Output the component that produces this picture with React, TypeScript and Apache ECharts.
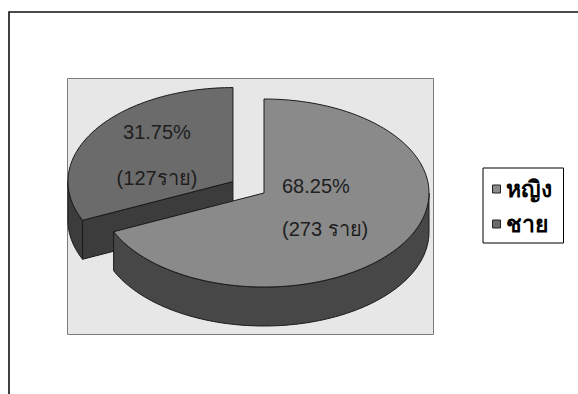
import React, { useEffect, useRef } from "react";
import * as echarts from "echarts";

// ---- data ----
const categories = ["หญิง", "ชาย"];
const counts = [273, 127];
const percentLabels = ["68.25%", "31.75%"];
const countLabels = ["(273 ราย)", "(127ราย)"];

// ---- styles ----
const topColors = ["#8a8a8a", "#6b6b6b"];
const sideColors = ["#474747", "#3c3c3c"];
const explode = [0, 0.224];
const labelPlace = [
  { dx: 18, dy: -7, align: "left", gap: 43 },
  { dx: -76, dy: -50, align: "center", gap: 46 },
];
const CX = 264;
const CY = 193;
const RX = 165;
const RY = 94;
const DEPTH = 39;
const FONT = "Arial, 'Liberation Sans', 'Noto Sans', sans-serif";
const EDGE = "#1a1a1a";

function sliceAngles(): number[][] {
  const total = counts.reduce((a, b) => a + b, 0);
  let cum = 0;
  return counts.map((v) => {
    const a2 = Math.PI / 2 - (cum / total) * 2 * Math.PI;
    cum += v;
    const a1 = Math.PI / 2 - (cum / total) * 2 * Math.PI;
    return [a1, a2];
  });
}

function arc(cx: number, cy: number, from: number, to: number, dy: number) {
  const n = Math.max(2, Math.ceil(Math.abs(to - from) / (Math.PI / 120)));
  const pts: number[][] = [];
  for (let j = 0; j <= n; j++) {
    const a = from + ((to - from) * j) / n;
    pts.push([cx + RX * Math.cos(a), cy - RY * Math.sin(a) + dy]);
  }
  return pts;
}

function makeRender(i: number) {
  return (_params: any, _api: any) => {
    const angles = sliceAngles();
    const [a1, a2] = angles[i];
    const mid = (a1 + a2) / 2;
    const cx = CX + explode[i] * RX * Math.cos(mid);
    const cy = CY - explode[i] * RY * Math.sin(mid);
    const children: any[] = [];
    const poly = (points: number[][], fill: string) => ({
      type: "polygon",
      shape: { points },
      style: { fill, stroke: EDGE, lineWidth: 1 },
    });
    // outer walls (front half only)
    for (let k = -2; k <= 2; k++) {
      const lo = Math.max(a1, Math.PI + 2 * Math.PI * k);
      const hi = Math.min(a2, 2 * Math.PI + 2 * Math.PI * k);
      if (hi - lo > 1e-6) {
        const pts = arc(cx, cy, lo, hi, 0).concat(arc(cx, cy, hi, lo, DEPTH));
        children.push(poly(pts, sideColors[i]));
      }
    }
    // radial faces
    const face = (a: number) => {
      const rx = cx + RX * Math.cos(a);
      const ry = cy - RY * Math.sin(a);
      return [
        [cx, cy],
        [rx, ry],
        [rx, ry + DEPTH],
        [cx, cy + DEPTH],
      ];
    };
    if (Math.cos(a1) > 1e-6) children.push(poly(face(a1), sideColors[i]));
    if (Math.cos(a2) < -1e-6) children.push(poly(face(a2), sideColors[i]));
    // top face
    children.push(poly([[cx, cy]].concat(arc(cx, cy, a1, a2, 0)), topColors[i]));
    // labels
    const lp = labelPlace[i];
    const lx = cx + lp.dx;
    const ly = cy + lp.dy;
    const tstyle = {
      fill: "#1e1e1e",
      fontSize: 20,
      fontFamily: FONT,
      align: lp.align,
      verticalAlign: "middle",
    };
    children.push({
      type: "text",
      x: lx,
      y: ly,
      style: { ...tstyle, text: percentLabels[i] },
    });
    children.push({
      type: "text",
      x: lx,
      y: ly + lp.gap,
      style: { ...tstyle, text: countLabels[i] },
    });
    return { type: "group", children };
  };
}

export default function App() {
  const ref = useRef<HTMLDivElement>(null);
  useEffect(() => {
    if (!ref.current) return;
    const chart = echarts.init(ref.current, undefined, { renderer: "svg" });
    chart.setOption({
      animation: false,
      backgroundColor: "#ffffff",
      graphic: [
        {
          type: "rect",
          z: 0,
          silent: true,
          shape: { x: 9, y: 12, width: 620, height: 420 },
          style: { fill: "#ffffff", stroke: "#111111", lineWidth: 1.6 },
        },
        {
          type: "rect",
          z: 1,
          silent: true,
          shape: { x: 67.5, y: 78.5, width: 366, height: 256 },
          style: { fill: "#e7e7e7", stroke: "#7c7c7c", lineWidth: 1 },
        },
      ],
      legend: {
        orient: "vertical",
        left: 483,
        top: 168,
        data: categories,
        icon: "rect",
        itemWidth: 8,
        itemHeight: 8,
        itemGap: 11,
        padding: [9, 12, 7, 9],
        borderColor: "#000000",
        borderWidth: 1,
        backgroundColor: "#ffffff",
        selectedMode: false,
        itemStyle: { borderColor: "#222222", borderWidth: 1 },
        textStyle: {
          fontSize: 23,
          fontWeight: "bold",
          color: "#000000",
          fontFamily: FONT,
          lineHeight: 24,
        },
      },
      series: categories.map((name, i) => ({
        type: "custom",
        name,
        coordinateSystem: "none",
        silent: true,
        z: 10 - i,
        itemStyle: { color: topColors[i] },
        data: [counts[i]],
        renderItem: makeRender(i),
      })),
    });
    return () => chart.dispose();
  }, []);
  return (
    <div
      ref={ref}
      style={{ position: "fixed", left: 0, top: 0, width: 578, height: 394 }}
    />
  );
}
